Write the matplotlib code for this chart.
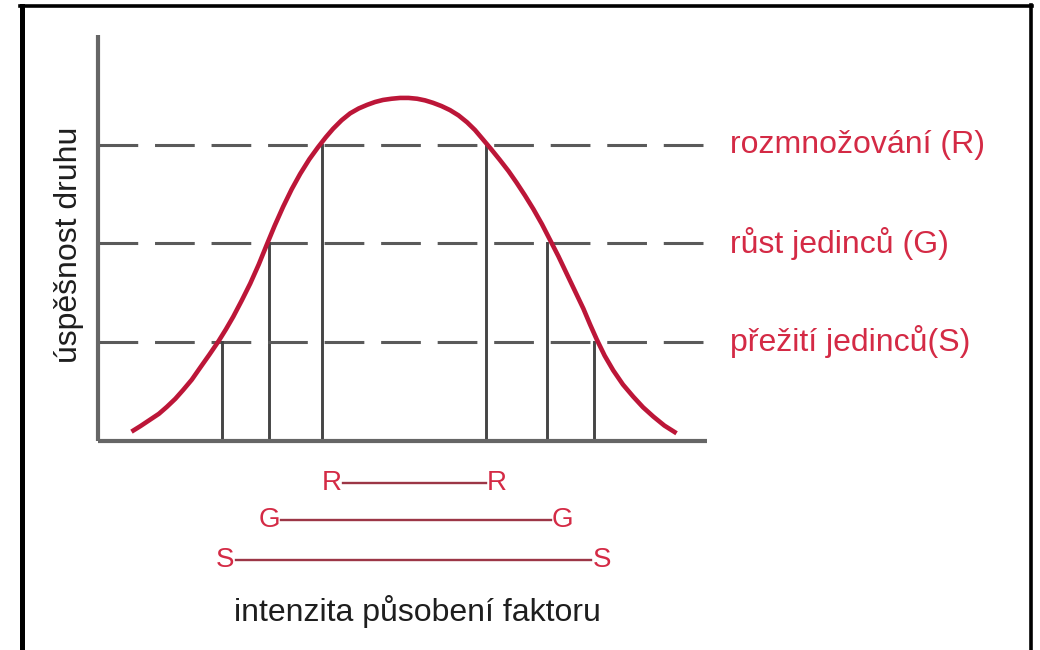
"""Tolerance curve: species success vs. factor intensity with R/G/S ranges."""

import matplotlib
matplotlib.use("Agg")
import matplotlib.pyplot as plt
from matplotlib.lines import Line2D

plt.rcParams["font.family"] = ["Liberation Sans", "DejaVu Sans"]

# curve (x: factor intensity, y: success, both 0-100)
curve_x = [5.5, 7.0, 8.5, 10.0, 11.3, 12.7, 14.0, 15.4, 16.7, 18.3, 19.8, 21.0,
           22.2, 23.6, 25.0, 26.4, 27.7, 29.0, 30.4, 31.8, 33.2, 34.7, 36.1, 37.4,
           38.6, 40.0, 41.4, 42.8, 44.2, 45.5, 46.8, 48.2, 49.6, 51.0, 52.4, 53.7,
           55.0, 56.4, 57.8, 59.2, 60.6, 61.9, 63.2, 64.6, 66.0, 67.4, 68.7, 70.1,
           71.5, 72.9, 74.2, 75.6, 76.9, 78.3, 79.7, 80.8, 81.9, 83.2, 84.6, 86.2,
           87.9, 89.5, 91.2, 93.0, 95.0]
curve_y = [2.3, 3.7, 5.2, 6.7, 8.4, 10.4, 12.6, 15.1, 17.9, 21.3, 24.6, 27.5,
           30.6, 34.6, 38.8, 43.5, 48.3, 53.0, 57.7, 62.0, 65.8, 69.4, 72.3, 74.8,
           76.9, 79.0, 80.7, 81.9, 82.8, 83.5, 84.0, 84.3, 84.5, 84.5, 84.3, 83.9,
           83.3, 82.5, 81.5, 80.2, 78.5, 76.6, 74.3, 71.8, 69.2, 66.5, 63.7, 60.5,
           57.1, 53.4, 49.6, 45.5, 41.4, 37.0, 32.6, 28.7, 25.0, 21.0, 17.4, 13.9,
           10.9, 8.3, 6.0, 3.8, 1.9]

# thresholds: reproduction, growth, survival
level_names = ["rozmnožování (R)", "růst jedinců (G)", "přežití jedinců(S)"]
level_codes = ["R", "G", "S"]
level_y = [72.8, 48.7, 24.4]
range_left = [36.7, 28.1, 20.4]
range_right = [63.7, 73.8, 81.4]

# letter positions of the ranges drawn under the axis
range_row_y = [-10.3, -19.5, -29.3]
letter_left = [38.4, 28.2, 20.9]
letter_right = [65.5, 76.2, 82.8]

x_label = "intenzita působení faktoru"
y_label = "úspěšnost druhu"

RED = "#d42a45"
CURVE = "#bc1638"
GREY = "#5a5a5a"

fig = plt.figure(figsize=(10.4, 6.5), dpi=100)
W, H = 1040, 650
ax = fig.add_axes([98 / W, 1 - 441 / H, (707 - 98) / W, (441 - 35) / H])
ax.set_xlim(0, 100)
ax.set_ylim(0, 100)
ax.set_xticks([]); ax.set_yticks([])
for side in ("top", "right"):
    ax.spines[side].set_visible(False)
for side in ("left", "bottom"):
    ax.spines[side].set_color("#666666")
    ax.spines[side].set_linewidth(3.0)
    ax.spines[side].set_capstyle("butt")

for code, name, y, xl, xr, ry, ll, lr in zip(level_codes, level_names, level_y,
                                              range_left, range_right, range_row_y,
                                              letter_left, letter_right):
    ax.plot([0, 100], [y, y], color=GREY, lw=2.2, dashes=(13, 5.5), solid_capstyle="butt",
            dash_capstyle="butt", zorder=2)
    for xv in (xl, xr):
        ax.plot([xv, xv], [0, y], color="#454545", lw=2.1, zorder=2)
    ax.text(103.8, y, name, color=RED, fontsize=23, ha="left", va="center", clip_on=False)
    # range bar under the x axis
    ax.plot([ll + 1.8, lr - 1.8], [ry, ry], color="#9c3646", lw=1.7, clip_on=False)
    for xv in (ll, lr):
        ax.text(xv, ry, code, color=RED, fontsize=20, ha="center", va="center",
                clip_on=False)

ax.plot(curve_x, curve_y, color=CURVE, lw=3.3, solid_joinstyle="round",
        solid_capstyle="butt", zorder=3)

ax.text(52.5, -42.1, x_label, color="#1e1e1e", fontsize=23, ha="center", va="center",
        clip_on=False)
ax.text(-4.8, 48.3, y_label, color="#1e1e1e", fontsize=23, ha="center", va="center",
        rotation=90, clip_on=False)

# picture frame (left, top, right edges)
fig.add_artist(Line2D([21.5 / W, 21.5 / W], [0, 1 - 5.5 / H], color="black", lw=3.6,
                      transform=fig.transFigure))
fig.add_artist(Line2D([19.5 / W, 1032 / W], [1 - 5.5 / H, 1 - 5.5 / H], color="black",
                      lw=2.6, transform=fig.transFigure))
fig.add_artist(Line2D([1030.5 / W, 1030.5 / W], [0, 1 - 4.5 / H], color="black", lw=2.6,
                      transform=fig.transFigure))

fig.savefig("out.png", dpi=100)
